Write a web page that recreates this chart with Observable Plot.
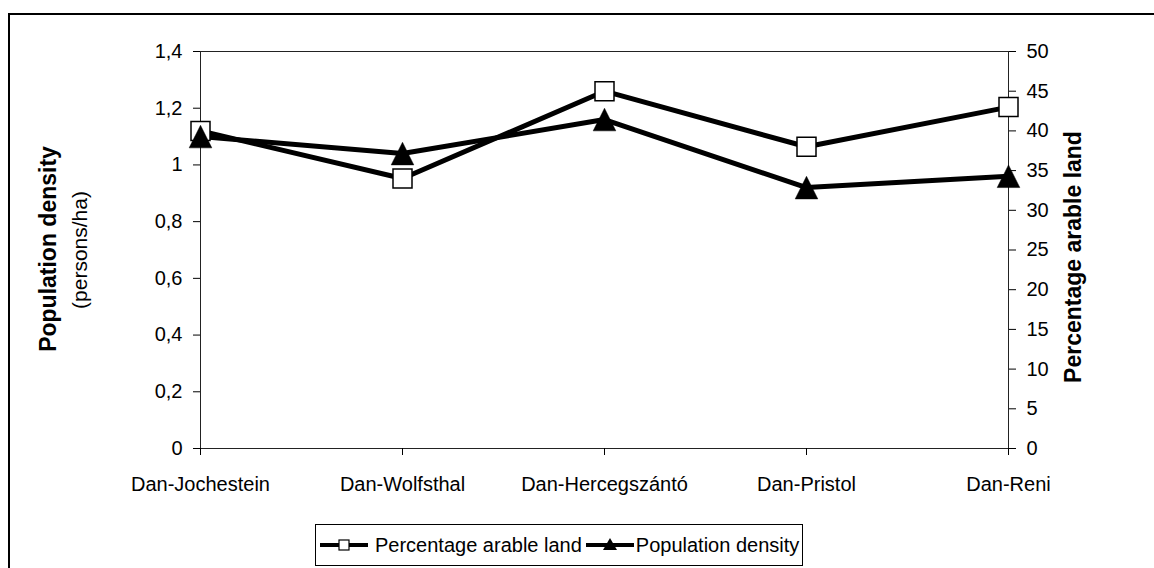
<!DOCTYPE html>
<html><head><meta charset="utf-8">
<script src="https://cdn.jsdelivr.net/npm/d3@7"></script>
<script src="https://cdn.jsdelivr.net/npm/@observablehq/plot@0.6"></script>
<style>
html,body{margin:0;padding:0;background:#fff;}
#wrap{position:relative;width:1154px;height:568px;overflow:hidden;font-family:"Liberation Sans",Arial,sans-serif;}
#border{position:absolute;left:8px;top:13px;width:1300px;height:700px;border-left:2px solid #000;border-top:2px solid #000;}
#chart{position:absolute;left:0;top:0;}
#legend{position:absolute;left:315px;top:524px;width:486px;height:40px;border:1px solid #000;background:#fff;display:flex;align-items:center;font-size:20px;color:#000;white-space:nowrap;}
#legend svg{display:block;flex:none;}
</style></head><body>
<div id="wrap"><div id="border"></div><div id="chart"></div><div id="legend"></div></div>
<script>
const crossings = ["Dan-Jochestein", "Dan-Wolfsthal", "Dan-Hercegszántó", "Dan-Pristol", "Dan-Reni"];
const arableLand = [40, 34, 45, 38, 43];
const populationDensity = [1.10, 1.04, 1.16, 0.92, 0.96];
const densityTicks = [0, 0.2, 0.4, 0.6, 0.8, 1, 1.2, 1.4];
const arableTicks = [0, 5, 10, 15, 20, 25, 30, 35, 40, 45, 50];
const seriesNames = ["Percentage arable land", "Population density"];
const leftTitle = "Population density";
const leftSubtitle = "(persons/ha)";
const rightTitle = "Percentage arable land";

const leftMax = 1.4, rightMax = 50;
const k = leftMax / rightMax;

const rows = crossings.map((c, i) => ({
  crossing: c,
  arable: arableLand[i],
  arableScaled: arableLand[i] * k,
  density: populationDensity[i]
}));

const squareSym = {draw(ctx, size) {
  const h = Math.sqrt(size / Math.PI);
  ctx.moveTo(-h, -h); ctx.lineTo(h, -h); ctx.lineTo(h, h); ctx.lineTo(-h, h); ctx.closePath();
}};
const triSym = {draw(ctx, size) {
  const h = Math.sqrt(size / Math.PI);
  ctx.moveTo(0, -h); ctx.lineTo(h, h); ctx.lineTo(-h, h); ctx.closePath();
}};

const font = "'Liberation Sans', Arial, sans-serif";

const chart = Plot.plot({
  width: 1154, height: 510,
  marginLeft: 200, marginRight: 146, marginTop: 51, marginBottom: 62,
  style: {fontFamily: font, fontSize: "20px", color: "#000", background: "transparent", overflow: "visible"},
  x: {type: "point", domain: crossings, padding: 0, label: null},
  y: {domain: [0, leftMax], label: null},
  marks: [
    Plot.frame({stroke: "#222", strokeWidth: 1}),
    Plot.axisX({tickSize: 7, tickPadding: 21, label: null}),
    Plot.axisY(densityTicks, {anchor: "left", tickSize: 7, tickPadding: 11, label: null,
      tickFormat: d => String(d).replace(".", ",")}),
    Plot.axisY(arableTicks.map(v => v * k), {anchor: "right", tickSize: 7, tickPadding: 11, label: null,
      tickFormat: d => String(Math.round(d / k))}),
    Plot.line(rows, {x: "crossing", y: "arableScaled", stroke: "#000", strokeWidth: 5}),
    Plot.line(rows, {x: "crossing", y: "density", stroke: "#000", strokeWidth: 5}),
    Plot.dot(rows, {x: "crossing", y: "arableScaled", symbol: squareSym, r: 9.5, fill: "#fff", stroke: "#000", strokeWidth: 1.5}),
    Plot.dot(rows, {x: "crossing", y: "density", symbol: triSym, r: 11.3, fill: "#000", stroke: "#000", strokeWidth: 0.5})
  ]
});
document.getElementById("chart").appendChild(chart);

const svg = d3.select(chart);
function addTitle(text, x, y, size, weight) {
  svg.append("text")
    .attr("transform", `translate(${x},${y}) rotate(-90)`)
    .attr("text-anchor", "middle")
    .attr("dominant-baseline", "central")
    .attr("fill", "#000")
    .style("font-family", font)
    .style("font-size", size + "px")
    .style("font-weight", weight)
    .text(text);
}
addTitle(leftTitle, 48, 249, 23, "bold");
addTitle(leftSubtitle, 79, 250, 21, "normal");
addTitle(rightTitle, 1073, 257, 23, "bold");

// Legend
const legend = d3.select("#legend");
const legendSymbols = ["square", "triangle"];
seriesNames.forEach((name, i) => {
  const s = legend.append("svg").attr("width", 48).attr("height", 20)
    .style("margin-left", i === 0 ? "4px" : "4px");
  s.append("line").attr("x1", 0).attr("x2", 48).attr("y1", 10).attr("y2", 10)
    .attr("stroke", "#000").attr("stroke-width", 4);
  if (legendSymbols[i] === "square") {
    s.append("rect").attr("x", 19).attr("y", 5).attr("width", 10).attr("height", 10)
      .attr("fill", "#fff").attr("stroke", "#000").attr("stroke-width", 1.2);
  } else {
    s.append("path").attr("d", "M24,3 L31,15 L17,15 Z").attr("fill", "#000");
  }
  legend.append("span").style("margin-left", i === 0 ? "7px" : "2px").text(name);
});
</script>
</body></html>
